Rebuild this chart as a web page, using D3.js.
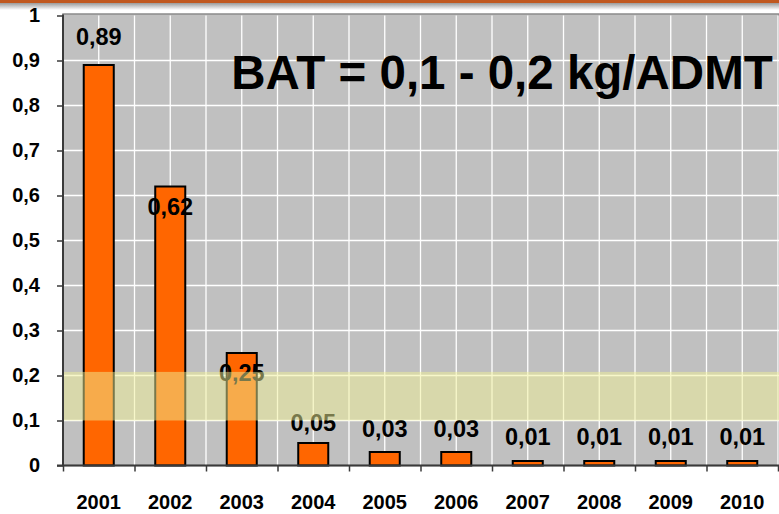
<!DOCTYPE html>
<html>
<head>
<meta charset="utf-8">
<style>
    body { margin: 0; background: #fff; }
    text { font-family: Arial, "Liberation Sans", sans-serif; font-weight: bold; }
</style>
</head>
<body>
<svg></svg>
<script src="https://d3js.org/d3.v7.min.js"></script>
<script>

    // chart data
    let years = ["2001", "2002", "2003", "2004", "2005", "2006", "2007", "2008", "2009", "2010"];
    let emissions = [0.89, 0.62, 0.25, 0.05, 0.03, 0.03, 0.01, 0.01, 0.01, 0.01];
    let yTicks = [0, 0.1, 0.2, 0.3, 0.4, 0.5, 0.6, 0.7, 0.8, 0.9, 1];
    let batRange = [0.1, 0.208];
    let title = "BAT = 0,1 - 0,2 kg/ADMT";

    // label nudges (px) copied from the hand-placed labels of the original
    let labelShift = [-28, 20, 20, -20, -23, -23, -24, -24, -24, -24];

    let width = 779,
        height = 514,
        plotL = 63, plotR = 778, plotT = 15.5, plotB = 465.5;

    let svg = d3.select("svg")
        .attr("width", width)
        .attr("height", height);

    let comma = d3.formatLocale({decimal: ",", thousands: ".", grouping: [3], currency: ["", ""]});
    let fmt = comma.format("~g"),
        fmt2 = comma.format(".2f");

    let x = d3.scaleBand().domain(years).range([plotL, plotR]).padding(0),
        y = d3.scaleLinear().domain([0, 1]).range([plotB, plotT]);
    let step = x.step(),
        barW = step * 0.42;

    // slide header strip
    let defs = svg.append("defs");
    let grad = defs.append("linearGradient").attr("id", "shade")
        .attr("x1", 0).attr("y1", 0).attr("x2", 0).attr("y2", 1);
    grad.append("stop").attr("offset", "0%").attr("stop-color", "#8c8c8c");
    grad.append("stop").attr("offset", "100%").attr("stop-color", "#ffffff");
    svg.append("rect").attr("x", 0).attr("y", 2).attr("width", width).attr("height", 8)
        .attr("fill", "url(#shade)");
    svg.append("rect").attr("x", 0).attr("y", 0).attr("width", width).attr("height", 3)
        .attr("fill", "#c0581f");

    // plot area
    svg.append("rect")
        .attr("x", plotL).attr("y", plotT - 1.5)
        .attr("width", width - plotL).attr("height", plotB - plotT + 1.5)
        .attr("fill", "#c0c0c0")
        .attr("stroke", "#8a8a8a").attr("stroke-width", 1.5);

    // grid lines
    let grid = svg.append("g").attr("stroke", "#ffffff").attr("stroke-width", 1.3);
    grid.selectAll(".h").data(yTicks.slice(1, -1)).enter().append("line")
        .attr("x1", plotL).attr("x2", width)
        .attr("y1", d => y(d)).attr("y2", d => y(d));
    let halfSteps = d3.range(1, years.length * 2 + 1).map(i => plotL + i * step / 2);
    grid.selectAll(".v").data(halfSteps).enter().append("line")
        .attr("x1", d => d).attr("x2", d => d)
        .attr("y1", plotT).attr("y2", plotB);

    // bars
    svg.append("g").selectAll("rect").data(emissions).enter().append("rect")
        .attr("x", (d, i) => x(years[i]) + (step - barW) / 2)
        .attr("y", d => y(d))
        .attr("width", barW)
        .attr("height", d => y(0) - y(d))
        .attr("fill", "#ff6600")
        .attr("stroke", "#000").attr("stroke-width", 2);

    // value labels
    svg.append("g").selectAll("text").data(emissions).enter().append("text")
        .attr("x", (d, i) => x(years[i]) + step / 2)
        .attr("y", (d, i) => y(d) + labelShift[i])
        .attr("dy", "0.36em")
        .attr("text-anchor", "middle")
        .style("font-size", "23.5px")
        .attr("fill", "#000")
        .text(d => fmt2(d));

    // title
    svg.append("text")
        .attr("x", 502).attr("y", 89)
        .attr("text-anchor", "middle")
        .style("font-size", "47.5px")
        .attr("fill", "#000")
        .text(title);

    // BAT band
    svg.append("rect")
        .attr("x", plotL).attr("y", y(batRange[1]))
        .attr("width", width - plotL).attr("height", y(batRange[0]) - y(batRange[1]))
        .attr("fill", "rgb(240,240,150)").attr("fill-opacity", 0.5);

    // y axis
    let yAxis = svg.append("g").attr("transform", "translate(" + plotL + ",0)")
        .call(d3.axisLeft(y).tickValues(yTicks).tickFormat(fmt).tickSize(6).tickPadding(17));
    yAxis.select(".domain").attr("stroke", "#3a3a3a").attr("stroke-width", 2)
        .attr("d", "M0," + (plotT - 1) + "V" + plotB);
    yAxis.selectAll(".tick line").attr("stroke", "#3a3a3a").attr("stroke-width", 1.5);
    yAxis.selectAll(".tick text").style("font-size", "20px").attr("fill", "#000")
        .style("font-family", "Arial, 'Liberation Sans', sans-serif").style("font-weight", "bold");

    // x axis: tick marks on the category boundaries, labels at centers
    let xb = d3.scaleLinear().domain([0, years.length]).range([plotL, plotR]);
    let xAxis = svg.append("g").attr("transform", "translate(0," + plotB + ")")
        .call(d3.axisBottom(xb).ticks(years.length).tickFormat("").tickSize(6));
    xAxis.select(".domain").attr("stroke", "#3a3a3a").attr("stroke-width", 2)
        .attr("d", "M" + (plotL - 6) + ",0H" + width);
    xAxis.selectAll(".tick line").attr("stroke", "#3a3a3a").attr("stroke-width", 1.5);

    svg.append("g").selectAll("text").data(years).enter().append("text")
        .attr("x", d => x(d) + step / 2)
        .attr("y", 509)
        .attr("text-anchor", "middle")
        .style("font-size", "20px")
        .attr("fill", "#000")
        .text(d => d);

</script>
</body>
</html>
